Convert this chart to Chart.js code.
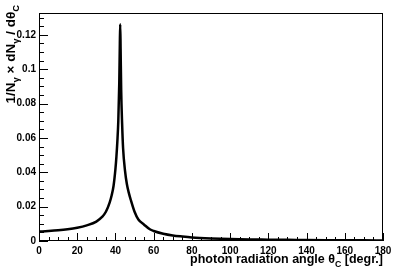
<!DOCTYPE html>
<html>
<head>
<meta charset="utf-8">
<script src="https://cdn.jsdelivr.net/npm/chart.js@4.4.0/dist/chart.umd.min.js"></script>
<style>
  body { margin: 0; background: #fff; }
  #c { display: block; }
</style>
</head>
<body>
<canvas id="c" width="403" height="271"></canvas>
<script>
// photon radiation angle (degrees) and normalised distribution
const angles = [0, 5, 10, 15, 20, 25, 30, 33, 35, 37, 38, 39, 40, 40.5, 41, 41.5, 42, 42.3, 42.5,
    42.7, 43, 43.5, 44, 45, 46, 47, 48, 50, 52, 55, 58, 60, 65, 70, 75, 80, 90, 100, 110, 120,
    130, 140, 150, 160, 170, 180];
const dist = [0.0055, 0.0058, 0.0062, 0.0068, 0.0077, 0.0091, 0.0113, 0.0140, 0.0170, 0.0225,
    0.0265, 0.0320, 0.0420, 0.0490, 0.0580, 0.0700, 0.0920, 0.1150, 0.1262, 0.1120, 0.0880,
    0.0680, 0.0540, 0.0410, 0.0330, 0.0280, 0.0240, 0.0170, 0.0125, 0.0095, 0.0068, 0.0058,
    0.0042, 0.0032, 0.0026, 0.0021, 0.0015, 0.0011, 0.0009, 0.0008, 0.0007, 0.0006, 0.0005,
    0.0004, 0.0004, 0.0003];
const xTicks = [0, 20, 40, 60, 80, 100, 120, 140, 160, 180];
const yTicks = [0, 0.02, 0.04, 0.06, 0.08, 0.1, 0.12];

const FONT = "'Liberation Sans', Arial, Helvetica, sans-serif";

// draws text made of [string, isSubscript] pieces starting at x, baseline y
function drawParts(ctx, parts, x, y, size) {
    parts.forEach(([txt, sub]) => {
        ctx.font = 'bold ' + (sub ? size * 0.7 : size) + 'px ' + FONT;
        ctx.fillText(txt, x, sub ? y + size * 0.3 : y);
        x += ctx.measureText(txt).width;
    });
}
function partsWidth(ctx, parts, size) {
    let w = 0;
    parts.forEach(([txt, sub]) => {
        ctx.font = 'bold ' + (sub ? size * 0.7 : size) + 'px ' + FONT;
        w += ctx.measureText(txt).width;
    });
    return w;
}

const rootFrame = {
    id: 'rootFrame',
    afterDraw(chart) {
        const { ctx, chartArea: a, scales } = chart;
        ctx.save();
        ctx.strokeStyle = '#000';
        ctx.lineWidth = 1;
        ctx.strokeRect(a.left + 0.5, a.top + 0.5, a.right - a.left - 1, a.bottom - a.top - 1);

        // inward ticks, major + minor
        ctx.beginPath();
        for (let v = 0; v <= 180; v += 5) {
            const px = Math.round(scales.x.getPixelForValue(v)) + 0.5;
            const len = v % 20 === 0 ? 8 : 4;
            ctx.moveTo(px, a.bottom);
            ctx.lineTo(px, a.bottom - len);
        }
        for (let i = 0; i <= 26; i++) {
            const v = i * 0.005;
            const py = Math.round(scales.y.getPixelForValue(v)) + 0.5;
            const len = i % 4 === 0 ? 9 : 5;
            ctx.moveTo(a.left, py);
            ctx.lineTo(a.left + len, py);
        }
        ctx.stroke();

        // axis titles
        ctx.fillStyle = '#000';
        ctx.textBaseline = 'alphabetic';
        ctx.textAlign = 'left';
        const xt = [['photon radiation angle \u03b8', false], ['C', true], [' [degr.]', false]];
        const xw = partsWidth(ctx, xt, 12.5);
        drawParts(ctx, xt, a.right - xw, 263, 12.5);

        const yt = [['1/N', false], ['\u03b3', true], [' \u00d7 dN', false], ['\u03b3', true],
            [' / d\u03b8', false], ['C', true]];
        const yw = partsWidth(ctx, yt, 13.5);
        ctx.translate(15, 5 + yw);
        ctx.rotate(-Math.PI / 2);
        drawParts(ctx, yt, 0, 0, 13.5);
        ctx.restore();
    }
};

new Chart(document.getElementById('c'), {
    type: 'line',
    plugins: [rootFrame],
    data: {
        datasets: [{
            data: angles.map((a, i) => ({ x: a, y: dist[i] })),
            borderColor: '#000',
            borderWidth: 2.5,
            pointRadius: 0,
            cubicInterpolationMode: 'monotone',
            fill: false
        }]
    },
    options: {
        responsive: false,
        animation: false,
        layout: { padding: { top: 13, right: 20, left: 0, bottom: 0 } },
        plugins: { legend: { display: false }, tooltip: { enabled: false } },
        scales: {
            x: {
                type: 'linear',
                min: 0,
                max: 180,
                afterFit: (s) => { s.height = 30; },
                afterBuildTicks: (s) => { s.ticks = xTicks.map(v => ({ value: v })); },
                grid: { display: false, drawTicks: false },
                border: { display: false },
                ticks: {
                    padding: 4,
                    maxRotation: 0,
                    color: '#000',
                    font: { family: FONT, size: 10, weight: 'bold' }
                }
            },
            y: {
                min: 0,
                max: 0.1327,
                afterFit: (s) => { s.width = 39; },
                afterBuildTicks: (s) => { s.ticks = yTicks.map(v => ({ value: v })); },
                grid: { display: false, drawTicks: false },
                border: { display: false },
                ticks: {
                    padding: 3,
                    color: '#000',
                    font: { family: FONT, size: 10, weight: 'bold' },
                    callback: (v) => String(+v.toFixed(3))
                }
            }
        }
    }
});
</script>
</body>
</html>
